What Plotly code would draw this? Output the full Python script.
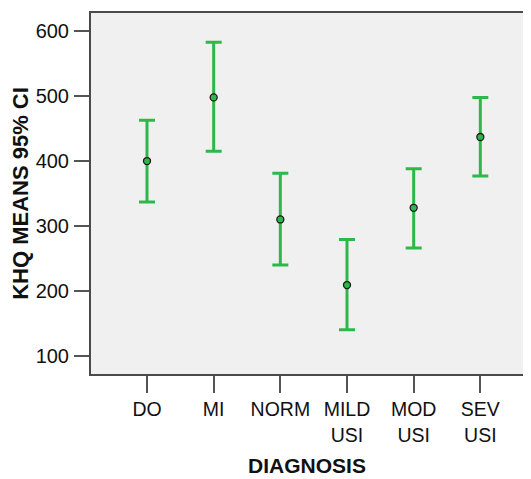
import plotly.graph_objects as go

categories = ["DO", "MI", "NORM", "MILD<br>USI", "MOD<br>USI", "SEV<br>USI"]
means = [400, 498, 310, 209, 328, 437]
upper = [463, 583, 381, 279, 388, 498]
lower = [337, 415, 240, 140, 266, 377]

err_plus = [u - m for u, m in zip(upper, means)]
err_minus = [m - l for m, l in zip(means, lower)]
xs = list(range(len(categories)))

green = "#2cb84a"
fig = go.Figure()
fig.add_trace(go.Scatter(
    x=xs, y=means, mode="markers",
    marker=dict(size=7, color=green, line=dict(color="#1a1a1a", width=1.3)),
    error_y=dict(type="data", symmetric=False, array=err_plus, arrayminus=err_minus,
                 color=green, thickness=3, width=8),
    showlegend=False,
))

font_family = "Liberation Sans, Arial, sans-serif"
fig.update_layout(
    width=515, height=479,
    margin=dict(l=83, r=0, t=5, b=113),
    paper_bgcolor="white", plot_bgcolor="#f0f0f0",
    font=dict(family=font_family, size=19, color="#111"),
    xaxis=dict(
        range=[-0.84, 5.64], tickmode="array", tickvals=xs, ticktext=categories,
        showgrid=False, zeroline=False, showline=True, mirror=True,
        linecolor="#4a4a4a", linewidth=2, ticks="outside", ticklen=17, tickcolor="#555",
        tickwidth=1.5, tickfont=dict(size=19.5), ticklabelstandoff=0,
        title=dict(text="<b>DIAGNOSIS</b>", font=dict(size=21), standoff=14),
    ),
    yaxis=dict(
        range=[72, 628], tickvals=[100, 200, 300, 400, 500, 600],
        showgrid=False, zeroline=False, showline=True,
        linecolor="#4a4a4a", linewidth=2, ticks="outside", ticklen=15, tickcolor="#555",
        tickwidth=1.5, tickfont=dict(size=20), ticklabelstandoff=1,
        title=dict(text="<b>KHQ MEANS 95% CI</b>", font=dict(size=22), standoff=5),
    ),
)
fig.write_html("out.html")
